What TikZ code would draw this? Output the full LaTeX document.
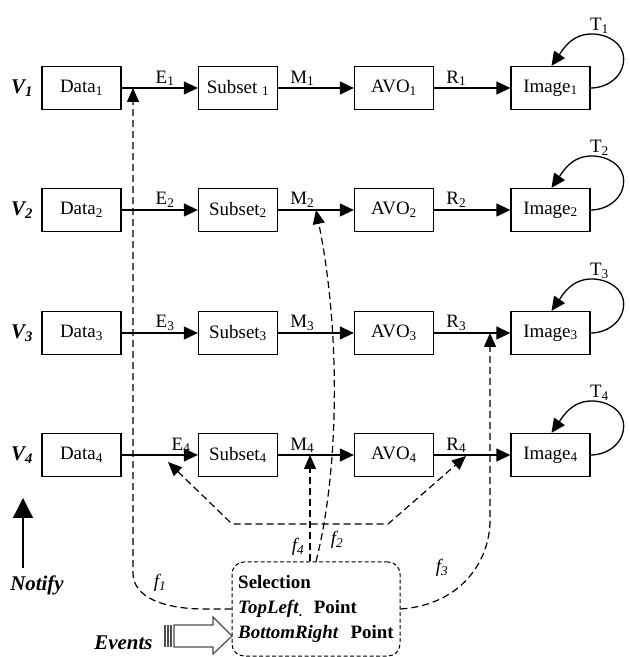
\documentclass[tikz,border=0pt]{standalone}
\usepackage{fontspec}
\setmainfont{Liberation Serif}
\usetikzlibrary{arrows.meta}

\tikzset{
  box/.style={draw, line width=1.3bp, minimum width=79bp, minimum height=43bp, inner sep=0pt},
  flow/.style={line width=1.3bp, -{Triangle[length=14bp,width=13bp]}},
  notice/.style={line width=1.2bp, dash pattern=on 7bp off 4bp, -{Triangle[length=14bp,width=12bp]}},
  lbl/.style={above, inner sep=1.5bp},
  big/.style={font=\fontsize{21}{25}\selectfont\bfseries\itshape},
  evarrow/.style={draw=black!70, line width=1.2bp},
}

\begin{document}
\begin{tikzpicture}[x=1bp, y=1bp, font=\fontsize{19}{22}\selectfont]
\useasboundingbox (0,0) rectangle (630,657);

% four views
\foreach \i/\y/\ep in {1/569/.57, 2/447/.57, 3/324/.57, 4/202/.78} {
  \node[big] (v\i) at (22,\y) {V\textsubscript{\i}};
  \node[box] (data\i) at (81.5,\y) {Data\textsubscript{\i}};
  \node[box] (sub\i) at (238,\y) {Subset\ifnum\i=1\ \fi\textsubscript{\i}};
  \node[box] (avo\i) at (394,\y) {AVO\textsubscript{\i}};
  \node[box] (img\i) at (550.5,\y) {Image\textsubscript{\i}};
  \draw[flow] (data\i) -- node[lbl, pos=\ep] {E\textsubscript{\i}} (sub\i);
  \draw[flow] (sub\i) -- node[lbl, pos=.32] {M\textsubscript{\i}} (avo\i);
  \draw[flow] (avo\i) -- node[lbl, pos=.29] {R\textsubscript{\i}} (img\i);
  \draw[flow] (img\i.east) to[out=0,in=-90] ++(33,29) to[out=90,in=0] ++(-32,25)
        to[out=180,in=55] ([xshift=1bp]img\i.north);
  \node (t\i) at ([shift={(49,62)}]img\i.center) {T\textsubscript{\i}};
}

% selection box and events
\node[draw, rounded corners=12bp, line width=1bp, dash pattern=on 4bp off 2.5bp,
      minimum width=168bp, minimum height=94bp, align=left,
      font=\fontsize{19}{25}\selectfont\bfseries] (sel) at (316,48)
      {Selection\\ \textit{TopLeft}\textsubscript{.}\hspace{11bp}Point\\ \textit{BottomRight}\hspace{12bp}Point};

\coordinate (f1tip) at (133,569);
\coordinate (f2tip) at (316,447);
\coordinate (f3tip) at (490,324);
\coordinate (f4tip) at (310,202);
\coordinate (e4tip) at (168,195);
\coordinate (r4tip) at (466,201);

\draw[notice] (sel.west) -- (205,48) .. controls (163,48) and (133,60) .. (133,84) -- (f1tip);
\draw[notice] (sel.north -| f2tip) .. controls (340,190) and (340,330) .. (f2tip);
\draw[notice] (sel.east) .. controls (460,52) and (490,95) .. (490,137) -- (f3tip);
\draw[notice] (sel.north -| f4tip) -- (f4tip);
\draw[notice, {Triangle[length=14bp,width=12bp]}-{Triangle[length=14bp,width=12bp]}]
      (e4tip) -- (232,133) -- (388,133) -- (r4tip);

\node at (160,74) {\textit{f\textsubscript{1}}};
\node at (337,117) {\textit{f\textsubscript{2}}};
\node at (442,89) {\textit{f\textsubscript{3}}};
\node at (298,110) {\textit{f\textsubscript{4}}};

\node[big, anchor=east] (events) at (156,14) {Events};
\draw[evarrow] (174,32) -- (213,32) -- (213,40) -- (232,21) -- (213,3) -- (213,10) -- (174,10) -- cycle;
\foreach \x in {165,168,171}
  \draw[evarrow] (\x,10) -- (\x,32);

\node[big] (notify) at (37,72) {Notify};
\coordinate (ntip) at (23,159);
\draw[line width=1.3bp, -{Triangle[length=20bp,width=20bp]}] ([yshift=4bp]notify.north -| ntip) -- (ntip);
\end{tikzpicture}
\end{document}
